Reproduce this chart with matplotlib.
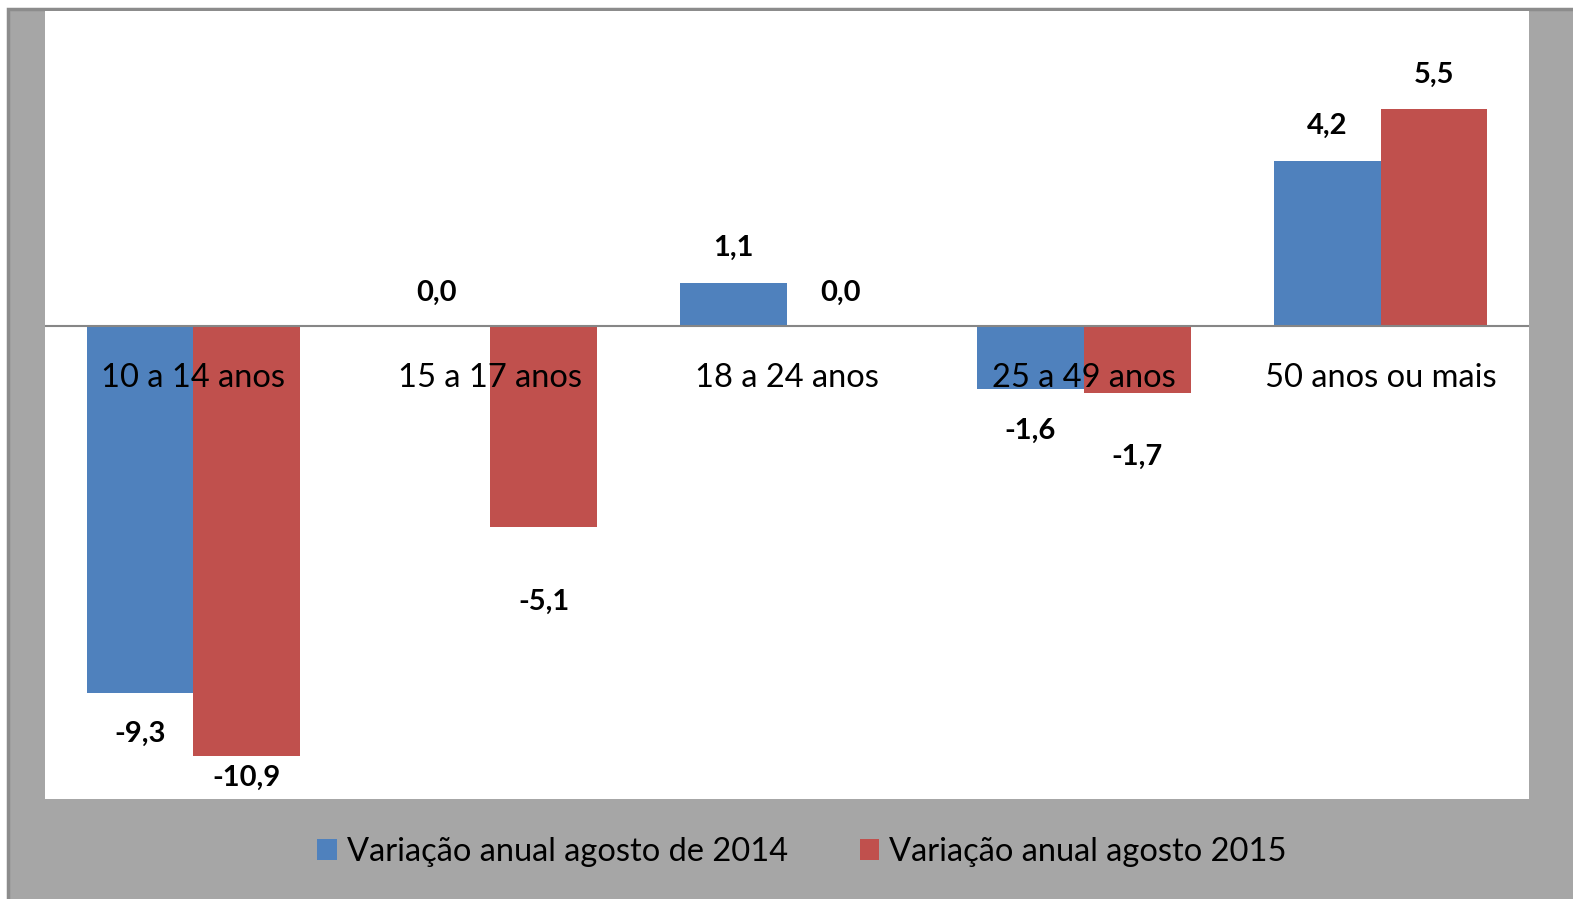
import matplotlib
matplotlib.use("Agg")
import matplotlib.pyplot as plt
from matplotlib.patches import Rectangle
import numpy as np

# Dados
categorias = ["10 a 14 anos", "15 a 17 anos", "18 a 24 anos", "25 a 49 anos", "50 anos ou mais"]
var_2014 = [-9.3, 0.0, 1.1, -1.6, 4.2]
var_2015 = [-10.9, -5.1, 0.0, -1.7, 5.5]
nomes = ["Variação anual agosto de 2014", "Variação anual agosto 2015"]

# deslocamento vertical dos rótulos (pontos)
desl_2014 = [-30, 24, 25, -30, 25]
desl_2015 = [-16, -54, 24, -46, 25]

azul = "#4F81BD"
vermelho = "#C0504D"
cinza = "#A6A6A6"

plt.rcParams['font.family'] = ['Lato', 'DejaVu Sans']

W, H = 1573, 899
fig = plt.figure(figsize=(W / 100, H / 100), dpi=100)
fig.patch.set_facecolor("white")

# moldura cinza
fig.patches.append(Rectangle((8 / W, -0.1), 1.2, 1 - 9 / H + 0.1, transform=fig.transFigure,
                             facecolor=cinza, edgecolor="#8C8C8C", lw=2.5, zorder=-1))

ax = fig.add_axes([45 / W, 100 / H, 1484 / W, 788 / H])
ax.set_facecolor("white")
ax.set_zorder(1)

x = np.arange(len(categorias))
larg = 0.36
b1 = ax.bar(x - larg / 2, var_2014, larg, color=azul, label=nomes[0], zorder=2)
b2 = ax.bar(x + larg / 2, var_2015, larg, color=vermelho, label=nomes[1], zorder=2)

ax.axhline(0, color="#868686", lw=1.5, zorder=3)

for barras, vals, desl in [(b1, var_2014, desl_2014), (b2, var_2015, desl_2015)]:
    for b, v, d in zip(barras, vals, desl):
        ax.annotate(f"{v:.1f}".replace(".", ","), (b.get_x() + b.get_width() / 2, v),
                    xytext=(0, d), textcoords="offset points", ha="center", va="center",
                    fontsize=21, fontweight="bold", color="black", zorder=5)

for i, c in enumerate(categorias):
    ax.annotate(c, (i, 0), xytext=(0, -37), textcoords="offset points",
                ha="center", va="center", fontsize=23.5, color="black", zorder=4)

ax.set_xlim(-0.5, len(categorias) - 0.5)
ax.set_ylim(-12, 8)
ax.set_xticks([])
ax.set_yticks([])
for s in ax.spines.values():
    s.set_visible(False)

leg = fig.legend(handles=[b1, b2], labels=nomes, loc="center", bbox_to_anchor=(802 / W, 1 - 852 / H),
                 ncol=2, frameon=False, fontsize=23.5, handlelength=0.6, handleheight=0.6,
                 handletextpad=0.3, columnspacing=2.2)

fig.savefig("out.png", dpi=100, facecolor=fig.get_facecolor())
